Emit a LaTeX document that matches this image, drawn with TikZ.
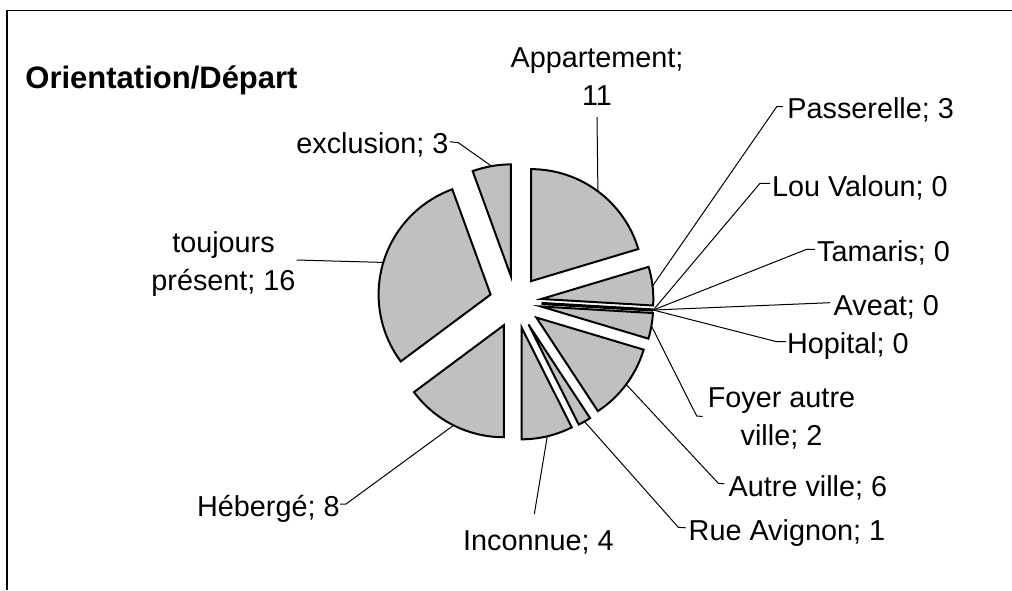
\documentclass[tikz,border=0pt]{standalone}
\usepackage{fontspec}
\setmainfont{Liberation Sans}
\usetikzlibrary{calc}
\definecolor{slicegray}{RGB}{192,192,192}

\begin{document}
\begin{tikzpicture}[x=0.5pt,y=-0.5pt,
    slice/.style={draw=black,fill=slicegray,line width=1pt,line join=miter},
    zero/.style={draw=black,line width=1.6pt},
    leader/.style={draw=black,line width=0.5pt}]

      \useasboundingbox (0,0) rectangle (1012,590);
      \draw[line width=0.8pt] (7,590) -- (7,10.5) -- (1012,10.5);

      \coordinate (C) at (515.5,302);

      % apex of every exploded slice
      \coordinate (aApp) at ($(C)+(-53.33:26)$);
      \coordinate (aPas) at ($(C)+(-6.67:26)$);
      \coordinate (aZer) at ($(C)+(3.33:26)$);
      \coordinate (aFoy) at ($(C)+(10:26)$);
      \coordinate (aAut) at ($(C)+(36.67:26)$);
      \coordinate (aRue) at ($(C)+(60:26)$);
      \coordinate (aInc) at ($(C)+(76.67:26)$);
      \coordinate (aHeb) at ($(C)+(116.67:26)$);
      \coordinate (aTou) at ($(C)+(196.67:26)$);
      \coordinate (aExc) at ($(C)+(260:26)$);

      \begin{scope}[every path/.style={slice}]
        \path (aApp) -- ++(-90:112)    arc[start angle=-90,    end angle=-16.67, radius=112] -- cycle;
        \path (aPas) -- ++(-16.67:112) arc[start angle=-16.67, end angle=3.33,   radius=112] -- cycle;
        \path (aFoy) -- ++(3.33:112)   arc[start angle=3.33,   end angle=16.67,  radius=112] -- cycle;
        \path (aAut) -- ++(16.67:112)  arc[start angle=16.67,  end angle=56.67,  radius=112] -- cycle;
        \path (aRue) -- ++(56.67:112)  arc[start angle=56.67,  end angle=63.33,  radius=112] -- cycle;
        \path (aInc) -- ++(63.33:112)  arc[start angle=63.33,  end angle=90,     radius=112] -- cycle;
        \path (aHeb) -- ++(90:112)     arc[start angle=90,     end angle=143.33, radius=112] -- cycle;
        \path (aTou) -- ++(143.33:112) arc[start angle=143.33, end angle=250,    radius=112] -- cycle;
        \path (aExc) -- ++(250:112)    arc[start angle=250,    end angle=270,    radius=112] -- cycle;
      \end{scope}

      % the four empty slices
      \coordinate (mZer) at ($(aZer)+(3.33:112)$);
      \draw[zero] (aZer) -- (mZer);

      % middle of every arc
      \coordinate (mApp) at ($(aApp)+(-53.33:112)$);
      \coordinate (mPas) at ($(aPas)+(-6.67:112)$);
      \coordinate (mFoy) at ($(aFoy)+(10:112)$);
      \coordinate (mAut) at ($(aAut)+(36.67:112)$);
      \coordinate (mRue) at ($(aRue)+(60:112)$);
      \coordinate (mInc) at ($(aInc)+(76.67:112)$);
      \coordinate (mHeb) at ($(aHeb)+(116.67:112)$);
      \coordinate (mTou) at ($(aTou)+(196.67:112)$);
      \coordinate (mExc) at ($(aExc)+(260:112)$);

      \node[anchor=base west, inner sep=0pt, font=\bfseries\fontsize{15.5}{18}\selectfont] (title) at (25,88.3) {Orientation/Départ};

      \begin{scope}[every node/.style={inner sep=0pt, font=\fontsize{14.4}{18.9}\selectfont}]
        \node[anchor=base, align=center] (lApp) at (597,105)     {Appartement;\\11};
        \node[anchor=base west] (lPas) at (787,118.3)            {Passerelle; 3};
        \node[anchor=base west] (lLou) at (771.7,196.7)          {Lou Valoun; 0};
        \node[anchor=base west] (lTam) at (816.7,261.7)          {Tamaris; 0};
        \node[anchor=base west] (lAve) at (833.3,315)            {Aveat; 0};
        \node[anchor=base west] (lHop) at (786.7,353.3)          {Hopital; 0};
        \node[anchor=base, align=center] (lFoy) at (781.5,445)   {Foyer autre\\ville; 2};
        \node[anchor=base west] (lAut) at (728.3,496)            {Autre ville; 6};
        \node[anchor=base west] (lRue) at (688.3,540)            {Rue Avignon; 1};
        \node[anchor=base west] (lInc) at (462.7,550)            {Inconnue; 4};
        \node[anchor=base west] (lHeb) at (196.7,516)            {Hébergé; 8};
        \node[anchor=base, align=center] (lTou) at (223.5,290)   {toujours\\présent; 16};
        \node[anchor=base west] (lExc) at (296,153.3)            {exclusion; 3};
      \end{scope}

      % leader ends
      \coordinate (eApp) at (597,117);
      \coordinate (ePas) at (776.7,106.7);
      \coordinate (eLou) at (760,183.3);
      \coordinate (eTam) at (806.7,249.3);
      \coordinate (eAve) at (830,302.7);
      \coordinate (eHop) at (776.7,341.7);
      \coordinate (eFoy) at (696.7,416);
      \coordinate (eAut) at (718.3,483.3);
      \coordinate (eRue) at (678.3,527.3);
      \coordinate (eInc) at (534.3,514);
      \coordinate (eHeb) at (346,504);
      \coordinate (eTou) at (296.7,260);
      \coordinate (eExc) at (458.3,142.7);

      \begin{scope}[every path/.style={leader}]
        \path (mApp) -- (eApp);
        \path (mPas) -- (ePas) -- ++(6.5,0);
        \path (mZer) -- (eLou) -- ++(10,0);
        \path (mZer) -- (eTam) -- ++(8.5,0);
        \path (mZer) -- (eAve);
        \path (mZer) -- (eHop) -- ++(9.5,0);
        \path (mFoy) -- (eFoy) -- ++(6,0.5);
        \path (mAut) -- (eAut) -- ++(6,0.5);
        \path (mRue) -- (eRue) -- ++(7.5,0.5);
        \path (mInc) -- (eInc);
        \path (mHeb) -- (eHeb) -- ++(-6,0);
        \path (mTou) -- (eTou);
        \path (mExc) -- (eExc) -- ++(-8.3,-1);
      \end{scope}

    \end{tikzpicture}
\end{document}
